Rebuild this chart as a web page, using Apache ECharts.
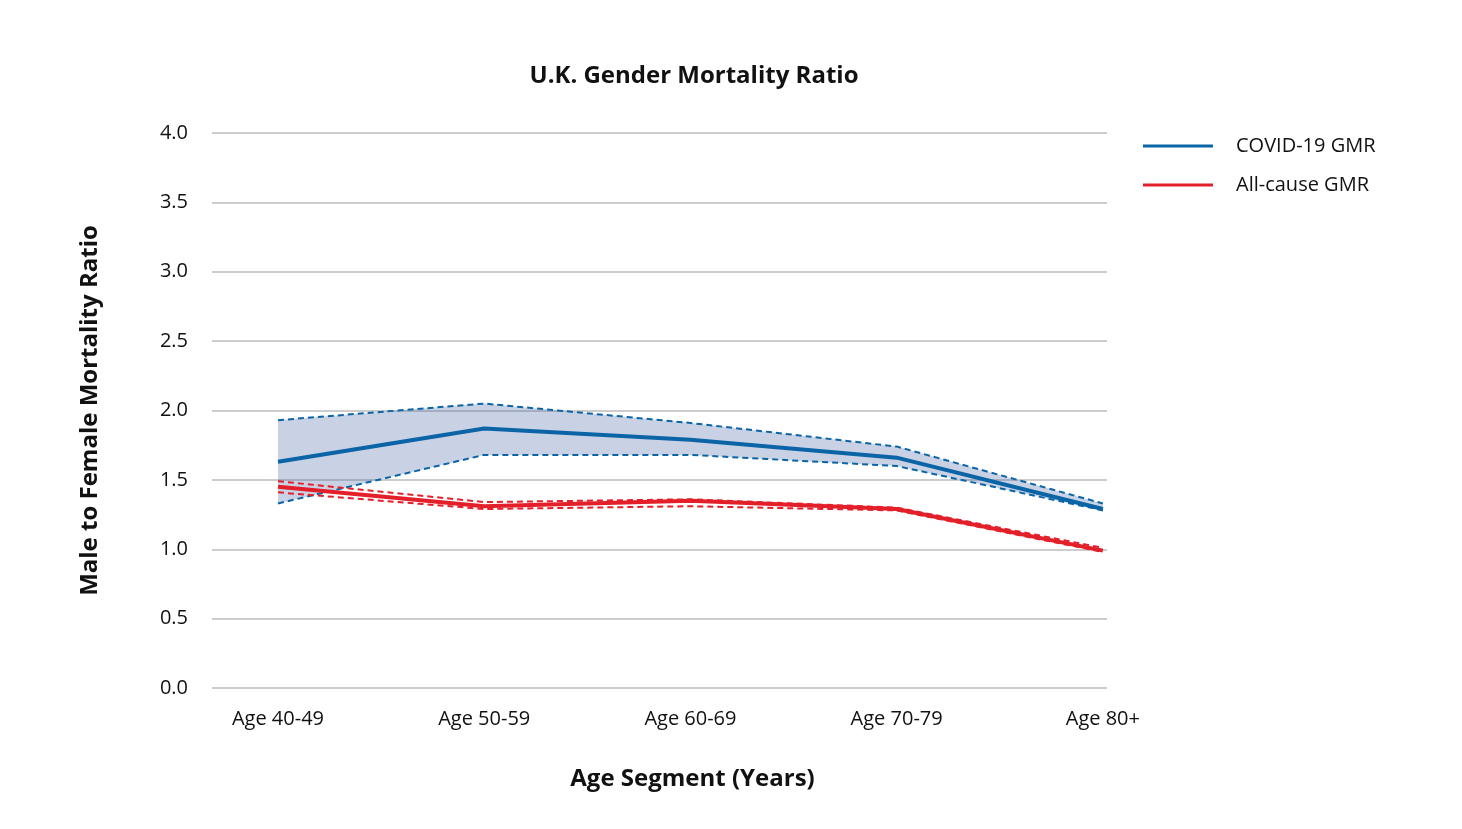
<!DOCTYPE html>
<html>
<head>
<meta charset="utf-8">
<script src="https://cdn.jsdelivr.net/npm/echarts@6/dist/echarts.min.js"></script>
<style>
html,body{margin:0;padding:0;background:#fff;}
#chart{width:1462px;height:829px;}
</style>
</head>
<body>
<div id="chart"></div>
<script>
const categories = ['Age 40-49', 'Age 50-59', 'Age 60-69', 'Age 70-79', 'Age 80+'];
const covidGMR   = [1.63, 1.87, 1.79, 1.66, 1.29];
const covidUpper = [1.93, 2.05, 1.91, 1.74, 1.33];
const covidLower = [1.33, 1.68, 1.68, 1.60, 1.28];
const allGMR     = [1.45, 1.31, 1.35, 1.29, 0.99];
const allUpper   = [1.49, 1.34, 1.36, 1.30, 1.01];
const allLower   = [1.41, 1.29, 1.31, 1.28, 0.98];
const yTicks = [0, 0.5, 1, 1.5, 2, 2.5, 3, 3.5, 4];

const BLUE = '#0a64a6';
const RED = '#e3202a';
const FONT = '"Open Sans", Lato, sans-serif';

const pts = arr => arr.map((v, i) => [i, v]);
const bandData = categories.map((c, i) => [i, covidLower[i], covidUpper[i]]);

const chart = echarts.init(document.getElementById('chart'));
chart.setOption({
  animation: false,
  backgroundColor: '#fff',
  textStyle: { fontFamily: FONT },
  title: {
    text: 'U.K. Gender Mortality Ratio',
    left: 689, top: 59, textAlign: 'center',
    textStyle: { fontFamily: FONT, fontSize: 24, fontWeight: 'bold', color: '#111' }
  },
  legend: {
    left: 1143, top: 136, padding: 0,
    orient: 'vertical',
    itemWidth: 70, itemHeight: 3, itemGap: 19,
    icon: 'rect',
    textStyle: { fontFamily: FONT, fontSize: 20, color: '#111', padding: [0, 0, 0, 18] },
    data: [
      { name: 'COVID-19 GMR', itemStyle: { color: BLUE } },
      { name: 'All-cause GMR', itemStyle: { color: RED } }
    ]
  },
  grid: { left: 212, right: 355, top: 133, bottom: 141 },
  xAxis: {
    type: 'value',
    min: -0.32, max: 4.02,
    name: 'Age Segment (Years)',
    nameLocation: 'middle',
    nameGap: 79,
    nameTextStyle: { fontFamily: FONT, fontSize: 24, fontWeight: 'bold', color: '#111', padding: [0, 0, 0, 66] },
    axisLine: { show: false },
    axisTick: { show: false },
    splitLine: { show: false },
    axisLabel: {
      customValues: [0, 1, 2, 3, 4],
      formatter: v => categories[Math.round(v)],
      margin: 21,
      fontFamily: FONT, fontSize: 20, color: '#111'
    }
  },
  yAxis: {
    type: 'value',
    min: 0, max: 4, interval: 0.5,
    name: 'Male to Female Mortality Ratio',
    nameLocation: 'middle',
    nameGap: 110,
    nameRotate: 90,
    nameTextStyle: { fontFamily: FONT, fontSize: 24, fontWeight: 'bold', color: '#111' },
    axisLine: { show: false },
    axisTick: { show: false },
    axisLabel: {
      customValues: yTicks,
      formatter: v => v.toFixed(1),
      margin: 24,
      fontFamily: FONT, fontSize: 20, color: '#111'
    },
    splitLine: { lineStyle: { color: '#bdbdbd', width: 1.5 } }
  },
  series: [
    {
      name: 'band', type: 'custom', silent: true, z: 1,
      data: bandData,
      encode: { x: 0, y: [1, 2] },
      renderItem: function (params, api) {
        if (params.dataIndex !== 0) return null;
        const upper = bandData.map(d => api.coord([d[0], d[2]]));
        const lower = bandData.map(d => api.coord([d[0], d[1]])).reverse();
        return {
          type: 'polygon',
          shape: { points: upper.concat(lower) },
          style: { fill: 'rgba(60,95,160,0.28)' }
        };
      }
    },
    {
      name: 'covidUpper', type: 'line', data: pts(covidUpper), symbol: 'none',
      lineStyle: { color: BLUE, width: 2, type: [6, 4] }, z: 3
    },
    {
      name: 'covidLower', type: 'line', data: pts(covidLower), symbol: 'none',
      lineStyle: { color: BLUE, width: 2, type: [6, 4] }, z: 3
    },
    {
      name: 'allUpper', type: 'line', data: pts(allUpper), symbol: 'none',
      lineStyle: { color: RED, width: 2, type: [6, 4] }, z: 3
    },
    {
      name: 'allLower', type: 'line', data: pts(allLower), symbol: 'none',
      lineStyle: { color: RED, width: 2, type: [6, 4] }, z: 3
    },
    {
      name: 'COVID-19 GMR', type: 'line', data: pts(covidGMR), symbol: 'none',
      itemStyle: { color: BLUE },
      lineStyle: { color: BLUE, width: 4 }, z: 4
    },
    {
      name: 'All-cause GMR', type: 'line', data: pts(allGMR), symbol: 'none',
      itemStyle: { color: RED },
      lineStyle: { color: RED, width: 4 }, z: 4
    }
  ]
});
</script>
</body>
</html>
